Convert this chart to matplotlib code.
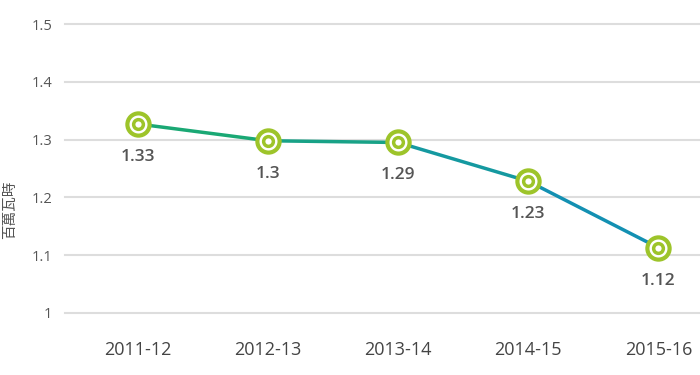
import matplotlib
matplotlib.use("Agg")
import matplotlib.pyplot as plt
import numpy as np

categories = ["2011-12", "2012-13", "2013-14", "2014-15", "2015-16"]
values = [1.327, 1.298, 1.295, 1.228, 1.113]
value_labels = ["1.33", "1.3", "1.29", "1.23", "1.12"]
y_ticks = [1, 1.1, 1.2, 1.3, 1.4, 1.5]
y_tick_labels = ["1", "1.1", "1.2", "1.3", "1.4", "1.5"]
y_title = "百萬瓦時"

plt.rcParams['font.family'] = ['Open Sans', 'Noto Sans CJK TC', 'DejaVu Sans']

fig = plt.figure(figsize=(7, 3.75), dpi=100)
ax = fig.add_axes([65/700, 62/375, 635/700, 289/375])

x = np.arange(len(categories))
seg_colors = ["#1aa874", "#18a287", "#1599a0", "#1390b2"]
for i in range(len(x) - 1):
    ax.plot(x[i:i+2], values[i:i+2], color=seg_colors[i], lw=2.5,
            solid_capstyle='round', zorder=3, clip_on=False)

ax.plot(x, values, 'o', ms=16, mfc='white', mec='#9dc42a', mew=3, zorder=4, clip_on=False)
ax.plot(x, values, 'o', ms=7, mfc='white', mec='#9dc42a', mew=2.5, zorder=5, clip_on=False)

for xi, v, lab in zip(x, values, value_labels):
    ax.annotate(lab, (xi, v), xytext=(0, -33), textcoords='offset pixels',
                ha='center', va='center', fontsize=12.5, fontweight='semibold',
                color='#555555', zorder=6)

ax.set_xlim(-0.56, 4.32)
ax.set_ylim(1.0, 1.5)
ax.set_yticks(y_ticks)
ax.set_yticklabels(y_tick_labels)
ax.set_xticks(x)
ax.set_xticklabels(categories)
for s in ax.spines.values():
    s.set_visible(False)
ax.tick_params(axis='y', length=0, pad=9, labelsize=10.5, labelcolor='#555555')
ax.tick_params(axis='x', length=0, pad=20, labelsize=13, labelcolor='#444444')
for yt in y_ticks:
    ax.axhline(yt, color='#dddddd', lw=1.5, zorder=1, clip_on=False)

fig.text(10/700, 165/375, y_title, rotation=90, ha='center', va='center',
         fontsize=10.5, color='#555555', family=['Noto Sans CJK TC', 'DejaVu Sans'])

fig.savefig("out.png", dpi=100)
